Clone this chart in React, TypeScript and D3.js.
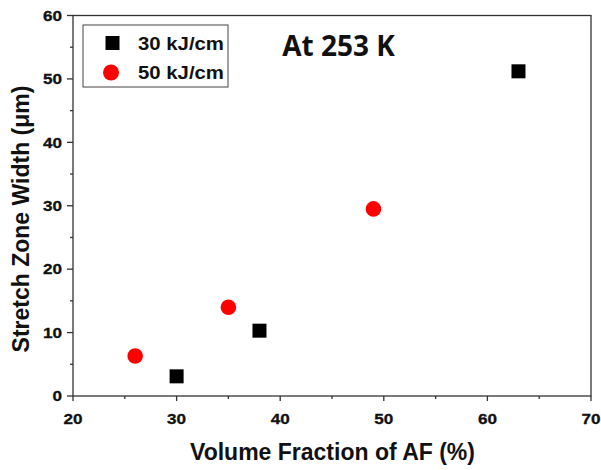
import React from "react";
import * as d3 from "d3";

const series30x = [30, 38, 63];
const series30y = [3.1, 10.3, 51.2];
const series50x = [26, 35, 49];
const series50y = [6.3, 14, 29.5];
const xTicks = [20, 30, 40, 50, 60, 70];
const yTicks = [0, 10, 20, 30, 40, 50, 60];
const xMinor = [25, 35, 45, 55, 65];
const yMinor = [5, 15, 25, 35, 45, 55];
const legendLabels = ["30 kJ/cm", "50 kJ/cm"];

export default function App() {
  const W = 601, H = 470;
  const L = 73, R = 591, T = 15.5, B = 396;
  const x = d3.scaleLinear().domain([20, 70]).range([L, R]);
  const y = d3.scaleLinear().domain([0, 60]).range([B, T]);
  const font = "Arial, 'Liberation Sans', sans-serif";
  const sq = 14;
  return (
    <svg width={W} height={H} style={{ position: "absolute", left: 0, top: 0, background: "#fff" }}>
      <rect x={L} y={T} width={R - L} height={B - T} fill="none" stroke="#333" strokeWidth={1.3} />
      {xTicks.map((t) => (
        <g key={"xt" + t}>
          <line x1={x(t)} x2={x(t)} y1={B} y2={B + 5} stroke="#333" strokeWidth={1.3} />
          <text transform={`translate(${x(t)}, 423.5) scale(1.18, 1)`} textAnchor="middle" fontFamily={font} fontWeight="bold" fontSize={14.5} stroke="#111" strokeWidth={0.3} fill="#111">{t}</text>
        </g>
      ))}
      {xMinor.map((t) => (
        <line key={"xm" + t} x1={x(t)} x2={x(t)} y1={B} y2={B + 3} stroke="#333" strokeWidth={1.3} />
      ))}
      {yTicks.map((t) => (
        <g key={"yt" + t}>
          <line x1={L - 6} x2={L} y1={y(t)} y2={y(t)} stroke="#333" strokeWidth={1.3} />
          <text transform={`translate(${L - 11}, ${y(t) + 5.2}) scale(1.18, 1)`} textAnchor="end" fontFamily={font} fontWeight="bold" fontSize={14.5} stroke="#111" strokeWidth={0.3} fill="#111">{t}</text>
        </g>
      ))}
      {yMinor.map((t) => (
        <line key={"ym" + t} x1={L - 3} x2={L} y1={y(t)} y2={y(t)} stroke="#333" strokeWidth={1.3} />
      ))}
      {series30x.map((v, i) => (
        <rect key={"s" + i} x={x(v) - sq / 2} y={y(series30y[i]) - sq / 2} width={sq} height={sq} fill="#000" />
      ))}
      {series50x.map((v, i) => (
        <circle key={"c" + i} cx={x(v)} cy={y(series50y[i])} r={7.8} fill="#ff0000" />
      ))}
      <rect x={83} y={25} width={145} height={62} fill="#fff" stroke="#444" strokeWidth={1} />
      <rect x={112.5 - 7} y={43 - 7} width={14} height={14} fill="#000" />
      <circle cx={111} cy={72.5} r={8} fill="#ff0000" />
      <text transform="translate(138, 50) scale(1.1, 1)" fontFamily={font} fontWeight="bold" fontSize={18.5} fill="#111">{legendLabels[0]}</text>
      <text transform="translate(138, 78.5) scale(1.1, 1)" fontFamily={font} fontWeight="bold" fontSize={18.5} fill="#111">{legendLabels[1]}</text>
      <text x={338.5} y={56} textAnchor="middle" fontFamily="'Open Sans', sans-serif" fontWeight="bold" fontSize={28} fill="#111">At 253 K</text>
      <text x={332.5} y={460} textAnchor="middle" fontFamily={font} fontWeight="bold" fontSize={23} fill="#111">Volume Fraction of AF (%)</text>
      <text transform={`translate(29, 219) rotate(-90)`} textAnchor="middle" fontFamily={font} fontWeight="bold" fontSize={23} fill="#111">Stretch Zone Width (μm)</text>
    </svg>
  );
}
